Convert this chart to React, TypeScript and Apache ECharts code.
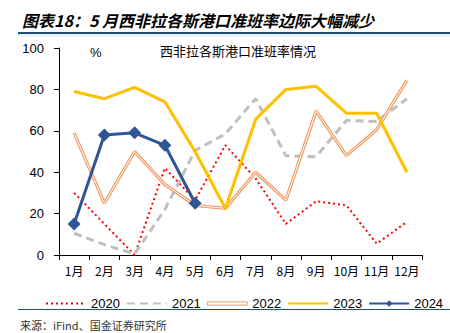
import React, { useEffect, useRef } from "react";
import * as echarts from "echarts";

const months = ["1月", "2月", "3月", "4月", "5月", "6月", "7月", "8月", "9月", "10月", "11月", "12月"];
const s2020 = [30, 15, 0, 42, 26.5, 53, 37, 15, 26, 24, 5.5, 16];
const s2021 = [10.5, 5, 0.5, 22, 50.5, 58.5, 75.5, 48, 47.5, 65, 64.5, 75.5];
const s2022 = [59, 25, 50, 34, 24, 22.5, 40, 26.5, 69.5, 48, 60.5, 84.5];
const s2023 = [79, 75.5, 81, 74, 50, 22.5, 65.5, 80, 81.5, 68.5, 68.5, 40];
const s2024 = [15, 58, 59, 53, 25];
const yTicks = [0, 20, 40, 60, 80, 100];

export default function App() {
  const ref = useRef<HTMLDivElement>(null);
  useEffect(() => {
    if (!ref.current) return;
    const chart = echarts.init(ref.current, null, { renderer: "svg" });
    const font = "Liberation Sans, Arial, sans-serif";
    const cjk = "Noto Sans CJK SC";
    const hidden = { color: "rgba(0,0,0,0)", borderWidth: 0 };
    chart.setOption({
      animation: false,
      backgroundColor: "#fff",
      title: {
        text: "西非拉各斯港口准班率情况",
        left: 233,
        textAlign: "center",
        top: 39,
        textStyle: { fontFamily: cjk, fontSize: 13, fontWeight: "normal", color: "#000" },
      },
      graphic: [
        {
          type: "text",
          left: 22,
          top: 12,
          style: {
            text: "图表18：5 月西非拉各斯港口准班率边际大幅减少",
            font: "italic bold 16px 'Noto Sans CJK SC'",
            fill: "#000",
          },
        },
        { type: "rect", shape: { x: 18, y: 32, width: 432, height: 2 }, style: { fill: "#1F4E79" } },
        { type: "rect", shape: { x: 18, y: 34, width: 432, height: 3 }, style: { fill: "#EEF1F5" } },
        { type: "text", left: 90, top: 46, style: { text: "%", font: "13px 'Liberation Sans'", fill: "#000" } },
        { type: "rect", shape: { x: 18, y: 309, width: 432, height: 1 }, style: { fill: "#1F4E79" } },
        {
          type: "text",
          left: 20,
          top: 319,
          style: { text: "来源：iFind、国金证券研究所", font: "11px 'Noto Sans CJK SC'", fill: "#333" },
        },
      ],
      grid: { left: 59, right: 28, top: 48, bottom: 78 },
      legend: {
        left: 40,
        top: 292,
        itemWidth: 40,
        itemHeight: 8,
        itemGap: 6,
        textStyle: { fontFamily: font, fontSize: 13, color: "#000", padding: [0, 0, 0, 0] },
        data: [
          { name: "2020", itemStyle: hidden },
          { name: "2021", itemStyle: hidden },
          {
            name: "2022",
            icon: "path://M0,0H40V3.2H0Z",
            itemStyle: { color: "#fff", borderColor: "#F29A62", borderWidth: 1 },
          },
          { name: "2023", itemStyle: hidden },
          { name: "2024" },
        ],
      },
      xAxis: {
        type: "category",
        data: months,
        boundaryGap: true,
        axisLine: { lineStyle: { color: "#000", width: 1 } },
        axisTick: { show: true, alignWithLabel: false, length: 5, lineStyle: { color: "#000" } },
        axisLabel: { interval: 0, fontFamily: cjk, fontSize: 12, color: "#000", margin: 9 },
      },
      yAxis: {
        type: "value",
        min: yTicks[0],
        max: yTicks[yTicks.length - 1],
        interval: 20,
        axisLine: { show: true, lineStyle: { color: "#000", width: 1 } },
        axisTick: { show: true, length: 5, lineStyle: { color: "#000" } },
        splitLine: { show: false },
        axisLabel: { fontFamily: font, fontSize: 13, color: "#000", margin: 15 },
      },
      series: [
        {
          name: "2020",
          type: "line",
          data: s2020,
          symbol: "none",
          color: "#FF0000",
          lineStyle: { color: "#FF0000", width: 2, type: [2, 3] },
        },
        {
          name: "2021",
          type: "line",
          data: s2021,
          symbol: "none",
          color: "#BFBFBF",
          lineStyle: { color: "#BFBFBF", width: 3, type: [8, 5] },
        },
        {
          name: "2022",
          type: "line",
          data: s2022,
          symbol: "none",
          color: "#F29A62",
          lineStyle: { color: "#F29A62", width: 3.2 },
        },
        {
          name: "2022w",
          type: "line",
          data: s2022,
          symbol: "none",
          silent: true,
          lineStyle: { color: "#fff", width: 1 },
        },
        {
          name: "2023",
          type: "line",
          data: s2023,
          symbol: "none",
          color: "#FFC000",
          lineStyle: { color: "#FFC000", width: 3 },
        },
        {
          name: "2024",
          type: "line",
          data: s2024,
          symbol: "diamond",
          symbolSize: 13,
          color: "#2F5597",
          itemStyle: { color: "#2F5597" },
          lineStyle: { color: "#2F5597", width: 3 },
        },
      ],
    });
    return () => chart.dispose();
  }, []);
  return <div ref={ref} style={{ position: "fixed", left: 0, top: 0, width: 450, height: 333 }} />;
}
